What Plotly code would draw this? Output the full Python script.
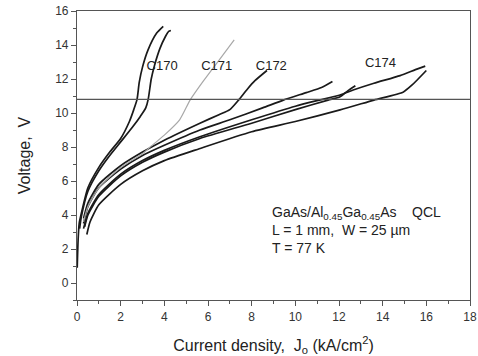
import plotly.graph_objects as go

# Current density J (kA/cm^2) and voltage V for each measured curve
c170a_j = [0.01, 0.05, 0.1, 0.2, 0.5, 1.0, 1.5, 2.0, 2.4, 2.6, 2.75, 2.85, 3.0, 3.25, 3.65, 3.95]
c170a_v = [0.9, 2.5, 3.5, 4.1, 5.6, 6.8, 7.7, 8.5, 9.5, 10.2, 10.8, 11.8, 12.7, 13.7, 14.7, 15.1]
c170b_j = [0.12, 0.2, 0.5, 1.0, 1.5, 2.0, 2.5, 2.9, 3.15, 3.26, 3.4, 3.55, 3.8, 4.05, 4.2, 4.3]
c170b_v = [3.2, 3.9, 5.4, 6.6, 7.5, 8.3, 9.1, 9.8, 10.3, 10.8, 12.0, 12.8, 13.8, 14.5, 14.8, 14.85]
c171_j = [0.3, 0.5, 1.0, 2.0, 3.0, 3.35, 4.0, 4.7, 5.18, 5.8, 6.5, 7.2]
c171_v = [3.6, 4.5, 5.6, 6.8, 7.6, 8.0, 8.7, 9.6, 10.76, 11.9, 13.1, 14.3]
c172_j = [0.3, 0.5, 1.0, 2.0, 3.0, 4.0, 5.63, 6.5, 7.0, 7.4, 7.8, 8.15, 8.7]
c172_v = [3.8, 4.7, 5.8, 6.9, 7.7, 8.4, 9.4, 9.9, 10.2, 10.76, 11.4, 11.9, 12.5]
cd_j = [0.3, 0.5, 1.0, 2.0, 3.0, 4.0, 5.63, 7.0, 8.5, 9.45, 10.5, 11.2, 11.7]
cd_v = [3.5, 4.5, 5.6, 6.7, 7.5, 8.1, 9.0, 9.6, 10.3, 10.76, 11.2, 11.5, 11.85]
ce_j = [0.35, 0.5, 1.0, 2.0, 3.0, 4.0, 5.63, 8.0, 10.0, 11.5, 12.05, 12.4, 12.75]
ce_v = [3.3, 4.0, 5.1, 6.3, 7.1, 7.7, 8.5, 9.4, 10.2, 10.76, 10.96, 11.3, 11.6]
c174a_j = [0.3, 0.5, 1.0, 2.0, 3.0, 4.0, 5.63, 8.0, 10.0, 11.1, 12.05, 12.65, 13.6, 14.8, 15.5, 15.95]
c174a_v = [3.2, 4.1, 5.2, 6.4, 7.2, 7.8, 8.6, 9.6, 10.4, 10.76, 11.06, 11.35, 11.75, 12.2, 12.55, 12.76]
c174b_j = [0.45, 0.6, 1.0, 2.0, 3.0, 4.0, 5.6, 8.0, 10.0, 12.05, 13.6, 14.95, 15.35, 16.0]
c174b_v = [2.85, 3.6, 4.6, 5.8, 6.6, 7.2, 7.9, 8.9, 9.5, 10.18, 10.76, 11.24, 11.65, 12.5]

threshold_v = 10.8

label_text = ["C170", "C171", "C172", "C174"]
label_j = [3.9, 6.4, 8.9, 13.9]
label_v = [12.7, 12.7, 12.75, 12.9]

x_ticks = [0, 2, 4, 6, 8, 10, 12, 14, 16, 18]
y_ticks = [0, 2, 4, 6, 8, 10, 12, 14, 16]

FONT = "Liberation Sans, Arial"

fig = go.Figure()

black_curves = [
    (c170a_j, c170a_v), (c170b_j, c170b_v), (c172_j, c172_v),
    (cd_j, cd_v), (ce_j, ce_v), (c174a_j, c174a_v), (c174b_j, c174b_v),
]
for j, v in black_curves:
    fig.add_trace(go.Scatter(x=j, y=v, mode="lines",
                             line=dict(color="#1a1a1a", width=1.7, shape="spline", smoothing=0.6),
                             showlegend=False, hoverinfo="skip"))
fig.add_trace(go.Scatter(x=c171_j, y=c171_v, mode="lines",
                         line=dict(color="#a8a8a8", width=1.2, shape="spline", smoothing=0.6),
                         showlegend=False, hoverinfo="skip"))

fig.add_trace(go.Scatter(x=[0, 18], y=[threshold_v, threshold_v], mode="lines",
                         line=dict(color="#555555", width=1.2),
                         showlegend=False, hoverinfo="skip"))

fig.add_trace(go.Scatter(x=label_j, y=label_v, mode="text", text=label_text,
                         textfont=dict(family=FONT, size=13, color="#222222"),
                         showlegend=False, hoverinfo="skip"))

fig.add_annotation(
    x=8.85, y=4.75, xref="x", yref="y", xanchor="left", yanchor="top",
    align="left", showarrow=False,
    text=("GaAs/Al<sub>0.45</sub>Ga<sub>0.45</sub>As    QCL<br>"
          "L = 1 mm,  W = 25 \u00b5m<br>T = 77 K"),
    font=dict(family=FONT, size=14, color="#222222"),
)

axis_common = dict(
    showline=True, linecolor="#555555", linewidth=1.2, mirror=True,
    ticks="outside", ticklen=5, tickcolor="#555555", tickwidth=1.2,
    showgrid=False, zeroline=False, automargin=False,
    tickfont=dict(family=FONT, size=12, color="#333333"),
)

fig.update_xaxes(range=[0, 18], tickvals=x_ticks,
                 minor=dict(dtick=1, ticklen=3, tickcolor="#555555", ticks="outside"),
                 title=dict(text="Current density,  J<sub>o</sub> (kA/cm<sup>2</sup>)",
                            font=dict(family=FONT, size=16, color="#222222"),
                            standoff=18),
                 **axis_common)
fig.update_yaxes(range=[-1, 16], tickvals=y_ticks,
                 minor=dict(dtick=1, ticklen=3, tickcolor="#555555", ticks="outside"),
                 title=dict(text="Voltage,  V",
                            font=dict(family=FONT, size=16, color="#222222"),
                            standoff=20),
                 **axis_common)

fig.update_layout(
    width=478, height=356,
    margin=dict(l=77, r=8, t=11, b=56),
    paper_bgcolor="white", plot_bgcolor="white",
)

fig.write_html("out.html", config={"displayModeBar": False},
               post_script="document.body.style.margin='0';")
